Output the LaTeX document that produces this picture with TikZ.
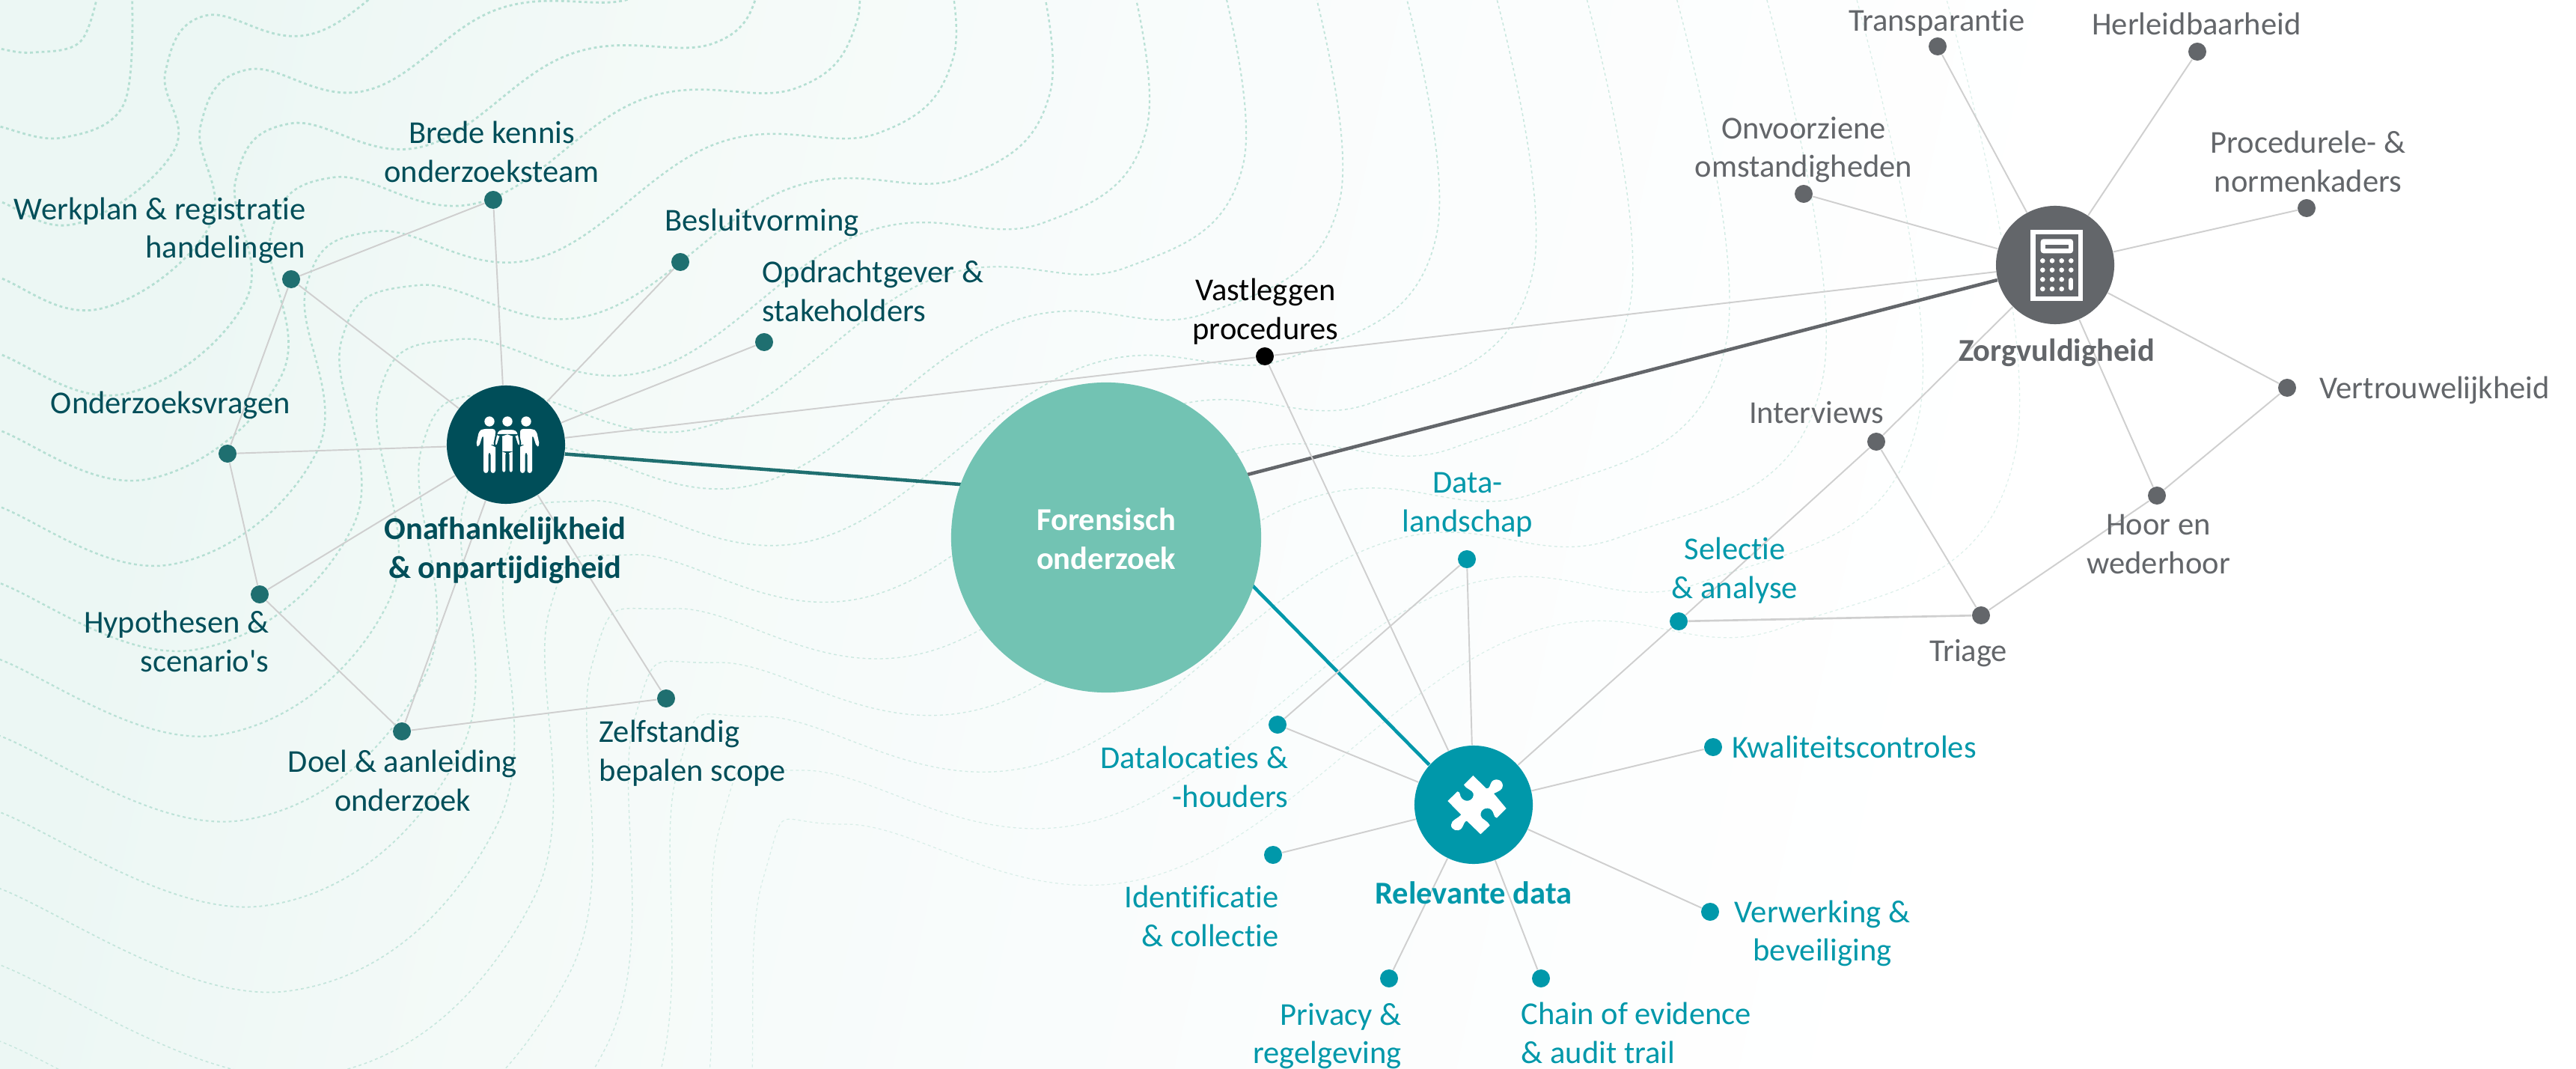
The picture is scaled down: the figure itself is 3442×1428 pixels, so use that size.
\documentclass[tikz,border=0pt]{standalone}
\usepackage{fontspec}
\setmainfont{Carlito}[Ligatures={TeXOff,NoCommon}]
\usetikzlibrary{backgrounds}
\definecolor{darkteal}{HTML}{004E59}
\definecolor{midteal}{HTML}{1F6F70}
\definecolor{seablue}{HTML}{0098AA}
\definecolor{slate}{HTML}{63666A}
\definecolor{mint}{HTML}{72C3B3}
\definecolor{edgegrey}{HTML}{CFCFCF}
\definecolor{wave}{HTML}{B5DFD3}
\definecolor{bgstart}{HTML}{ECF7F4}
\definecolor{bgnext}{HTML}{F4FAF8}
\definecolor{bgmid}{HTML}{F9FCFC}
\pgfdeclarehorizontalshading{bgfade}{100bp}{color(0bp)=(bgstart); color(25bp)=(bgstart); color(35bp)=(bgnext); color(47bp)=(bgmid); color(65bp)=(white); color(100bp)=(white)}
\tikzstyle{hubnode} = [circle,inner sep=0pt,minimum size=1.58cm]
\tikzstyle{dotnode} = [circle,inner sep=0pt,minimum size=.24cm]
\tikzstyle{txt} = [inner sep=0pt,font=\fontsize{12.1}{14.7}\selectfont]
\tikzstyle{txtbold} = [inner sep=0pt,font=\fontsize{12.1}{14.7}\selectfont\bfseries]
\tikzstyle{thinedge} = [edgegrey,line width=.55pt]
\tikzstyle{thickedge} = [line width=1.3pt]
\tikzstyle{waveline} = [wave,dash pattern=on 1.1pt off 1.1pt]
\tikzset{
	person/.pic={
		\fill[white] (0,0) circle (6.7);
		\fill[white,draw=darkteal,line width=.6pt,rounded corners=1pt] (-9,10)--(9,10)--(14,13)--(18,32)--(14,34)--(9,18)--(8,18)--(8,69)--(1.5,69)--(1.5,41)--(-1.5,41)--(-1.5,69)--(-8,69)--(-8,18)--(-9,18)--(-14,34)--(-18,32)--(-14,13)--cycle;
	},
	sideperson/.pic={
		\fill[white] (0,0) circle (6.7);
		\fill[white,rounded corners=1pt] (-9,10)--(8,10)--(8,69)--(1.5,69)--(1.5,41)--(-1.5,41)--(-1.5,69)--(-8,69)--(-8,18)--(-9,18)--(-14,34)--(-18,32)--(-14,13)--cycle;
	}
}
\newcommand{\waves}[3]{\draw[waveline,line width=#2,opacity=#3] plot[smooth,tension=.7] coordinates {(-50,{102*#1-67}) (0,{102*#1-37}) ({12+31*#1},{114*#1-44}) ({88+48*#1},{100*#1-98}) ({max(80+47*#1,57*#1-7)},{72*#1-120}) ({103+57*#1},{72*#1-195}) ({189+75*#1},{75*#1-179}) ({278+97*#1},{60*#1-228}) ({403+110*#1},{60*#1-242}) ({371+129*#1},{48*#1-260}) ({413+120*#1},-100)};}
\begin{document}
\begin{tikzpicture}[x=.01cm,y=-.01cm]
	\useasboundingbox (0,0) rectangle (3442,1428);

	\node [hubnode,fill=darkteal](lh) at (676,594){};
	\node [hubnode,fill=slate](rh) at (2746,354){};
	\node [hubnode,fill=seablue](bh) at (1969,1075){};
	\node [circle,inner sep=0pt,minimum size=4.14cm,fill=mint](fo) at (1478,718){};
	\coordinate (fl) at (1478,662);
	\coordinate (fr) at (1478,683);
	\coordinate (fb) at (1478,584);

	\node [dotnode,fill=midteal](br) at (659,267){};
	\node [dotnode,fill=midteal](we) at (389,373){};
	\node [dotnode,fill=midteal](be) at (909,350){};
	\node [dotnode,fill=midteal](op) at (1021,457){};
	\node [dotnode,fill=midteal](on) at (304,606){};
	\node [dotnode,fill=midteal](hy) at (347,794){};
	\node [dotnode,fill=midteal](do) at (537,977){};
	\node [dotnode,fill=midteal](ze) at (890,933){};
	\node [dotnode,fill=black](va) at (1690,476){};

	\node [dotnode,fill=slate](tr) at (2589,62){};
	\node [dotnode,fill=slate](he) at (2936,69){};
	\node [dotnode,fill=slate](ov) at (2410,259){};
	\node [dotnode,fill=slate](pr) at (3082,278){};
	\node [dotnode,fill=slate](ve) at (3056,518){};
	\node [dotnode,fill=slate](ho) at (2882,662){};
	\node [dotnode,fill=slate](in) at (2507,590){};
	\node [dotnode,fill=slate](ti) at (2647,822){};

	\node [dotnode,fill=seablue](dl) at (1960,747){};
	\node [dotnode,fill=seablue](se) at (2243,830){};
	\node [dotnode,fill=seablue](da) at (1707,968){};
	\node [dotnode,fill=seablue](kw) at (2289,998){};
	\node [dotnode,fill=seablue](id) at (1701,1142){};
	\node [dotnode,fill=seablue](vw) at (2285,1218){};
	\node [dotnode,fill=seablue](pv) at (1856,1307){};
	\node [dotnode,fill=seablue](ch) at (2059,1307){};

	\node [txt,text=darkteal,align=center](brt) at (657,203){Brede kennis\\onderzoeksteam};
	\node [txt,text=darkteal,align=right,anchor=east](wet) at (409,308){Werkplan \& registratie\\handelingen};
	\node [txt,text=darkteal](ont) at (228,541){Onderzoeksvragen};
	\node [txt,text=darkteal,align=right,anchor=east](hyt) at (360,857){Hypothesen \&\\scenario's};
	\node [txt,text=darkteal,align=center](dot) at (538,1043){Doel \& aanleiding\\onderzoek};
	\node [txt,text=darkteal,align=left,anchor=west](zet) at (800,1006){Zelfstandig\\bepalen scope};
	\node [txt,text=darkteal](bet) at (1018,297){Besluitvorming};
	\node [txt,text=darkteal,align=left,anchor=west](opt) at (1018,389){Opdrachtgever \&\\stakeholders};
	\node [txtbold,text=darkteal,align=center](lht) at (675,735){Onafhankelijkheid\\\& onpartijdigheid};
	\node [txt,text=black,align=center](vat) at (1691,416){Vastleggen\\procedures};
	\node [txtbold,text=white,align=center](fot) at (1478,720){Forensisch\\onderzoek};

	\node [txt,text=slate](trt) at (2588,30){Transparantie};
	\node [txt,text=slate](het) at (2935,32){Herleidbaarheid};
	\node [txt,text=slate,align=center](ovt) at (2410,200){Onvoorziene\\omstandigheden};
	\node [txt,text=slate,align=center](prt) at (3084,216){Procedurele- \&\\normenkaders};
	\node [txtbold,text=slate](rht) at (2748,471){Zorgvuldigheid};
	\node [txt,text=slate,anchor=west](vet) at (3099,521){Vertrouwelijkheid};
	\node [txt,text=slate](int) at (2427,551){Interviews};
	\node [txt,text=slate,align=center](hot) at (2884,727){Hoor en\\wederhoor};
	\node [txt,text=slate](tit) at (2630,873){Triage};

	\node [txt,text=seablue,align=center](dlt) at (1961,674){Data-\\landschap};
	\node [txt,text=seablue,align=center](set) at (2318,762){Selectie\\\& analyse};
	\node [txt,text=seablue,align=right,anchor=east](dat) at (1722,1038){Datalocaties \&\\-houders};
	\node [txt,text=seablue,anchor=west](kwt) at (2314,998){Kwaliteitscontroles};
	\node [txt,text=seablue,align=right,anchor=east](idt) at (1709,1224){Identificatie\\\& collectie};
	\node [txtbold,text=seablue](bht) at (1969,1193){Relevante data};
	\node [txt,text=seablue,align=center](vwt) at (2435,1247){Verwerking \&\\beveiliging};
	\node [txt,text=seablue,align=right,anchor=east](pvt) at (1873,1384){Privacy \&\\regelgeving};
	\node [txt,text=seablue,align=left,anchor=west](cht) at (2032,1380){Chain of evidence\\\& audit trail};

	\pic at (654,563) {sideperson};
	\pic[xscale=-1] at (703,563) {sideperson};
	\pic at (678,563) {person};

	\fill[white] (2713.3,307.3) rectangle (2783.3,401.7);
	\fill[slate] (2720,313.3) rectangle (2777,395.7);
	\fill[white,rounded corners=1pt] (2726.7,319.3) rectangle (2770,338.3);
	\fill[slate] (2732.7,326.7) rectangle (2764.3,332.3);
	\fill[white] (2729.3,348.3) circle (3.3) (2742,348.3) circle (3.3) (2754.7,348.3) circle (3.3) (2767.3,348.3) circle (3.3);
	\fill[white] (2729.3,360.7) circle (3.3) (2742,360.7) circle (3.3) (2754.7,360.7) circle (3.3) (2767.3,360.7) circle (3.3);
	\fill[white] (2729.3,373.3) circle (3.3) (2742,373.3) circle (3.3) (2754.7,373.3) circle (3.3);
	\fill[white] (2729.3,386) circle (3.3) (2742,386) circle (3.3) (2754.7,386) circle (3.3);
	\draw[white,line width=1.7pt,line cap=round] (2767.3,374) -- (2767.3,385);

	\begin{scope}[shift={(1870,980)},scale=1/3]
		\fill[white] (295,168) -- (348,220) .. controls (362,222) and (362,205) .. (368,195) .. controls (378,178) and (412,180) .. (414,208) .. controls (415,225) and (395,232) .. (378,240) -- (428,300) -- (390,338) .. controls (375,335) and (380,315) .. (368,305) .. controls (350,290) and (320,305) .. (326,330) .. controls (330,345) and (350,345) .. (362,368) -- (325,403) -- (270,350) .. controls (260,350) and (258,365) .. (250,378) .. controls (235,398) and (205,385) .. (207,365) .. controls (208,345) and (235,340) .. (247,325) -- (193,270) -- (232,232) .. controls (245,232) and (240,250) .. (250,260) .. controls (270,280) and (300,265) .. (296,240) .. controls (292,225) and (270,225) .. (258,205) -- cycle;
	\end{scope}

	\begin{scope}[on background layer]
		\clip (0,0) rectangle (3442,1428);
		\shade[shading=bgfade,shading angle=-12] (0,0) rectangle (3442,1428);
		\draw[waveline,line width=.8pt] plot[smooth,tension=.6] coordinates {(-50,50) (0,65) (46,70) (108,55) (133,-20)};
		\draw[waveline,line width=.8pt] plot[smooth,tension=.6] coordinates {(-50,150) (0,169) (83,184) (166,138) (176,-20)};
		\waves{3}{.8pt}{1}
		\waves{4}{.8pt}{1}
		\waves{5}{.8pt}{1}
		\waves{6}{.75pt}{1}
		\waves{7}{.7pt}{1}
		\waves{8}{.7pt}{.95}
		\waves{9}{.65pt}{.9}
		\waves{10}{.6pt}{.85}
		\waves{11}{.55pt}{.8}
		\waves{12}{.5pt}{.75}
		\waves{13}{.45pt}{.7}
		\waves{14}{.4pt}{.65}
		\waves{15}{.4pt}{.6}
		\waves{16}{.4pt}{.55}
		\waves{17}{.35pt}{.5}
		\waves{18}{.35pt}{.45}

		\draw[thickedge,midteal](lh.-9.4)--(fl);
		\draw[thickedge,slate](rh)--(fr);
		\draw[thickedge,seablue](bh.138)--(fb);

		\draw[thinedge](lh)--(va);
		\draw[thinedge](va)--(rh);
		\draw[thinedge](va)--(bh);

		\draw[thinedge](lh)--(br);
		\draw[thinedge](lh)--(we);
		\draw[thinedge](lh)--(be);
		\draw[thinedge](lh)--(op);
		\draw[thinedge](lh)--(on);
		\draw[thinedge](lh)--(hy);
		\draw[thinedge](lh)--(do);
		\draw[thinedge](lh)--(ze);
		\draw[thinedge](we)--(br);
		\draw[thinedge](we)--(on);
		\draw[thinedge](on)--(hy);
		\draw[thinedge](hy)--(do);
		\draw[thinedge](do)--(ze);

		\draw[thinedge](rh)--(tr);
		\draw[thinedge](rh)--(he);
		\draw[thinedge](rh)--(ov);
		\draw[thinedge](rh)--(pr);
		\draw[thinedge](rh)--(ve);
		\draw[thinedge](rh)--(ho);
		\draw[thinedge](rh)--(in);
		\draw[thinedge](ve)--(ho);
		\draw[thinedge](ho)--(ti);
		\draw[thinedge](in)--(ti);
		\draw[thinedge](in)--(se);
		\draw[thinedge,line width=.75pt](se)--(ti);

		\draw[thinedge](bh)--(dl);
		\draw[thinedge](bh)--(se);
		\draw[thinedge](bh)--(da);
		\draw[thinedge](bh)--(kw);
		\draw[thinedge](bh)--(id);
		\draw[thinedge](bh)--(vw);
		\draw[thinedge](bh)--(pv);
		\draw[thinedge](bh)--(ch);
		\draw[thinedge](da)--(dl);
	\end{scope}
\end{tikzpicture}
\end{document}
